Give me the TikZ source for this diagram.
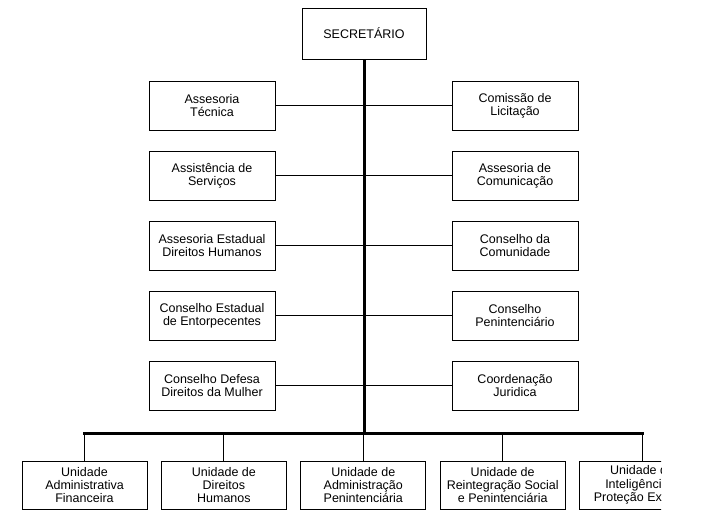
\documentclass[tikz,border=0pt]{standalone}
\usepackage{fontspec}
\setmainfont{Liberation Sans}
\usepackage{tikz}
\tikzstyle{block} = [rectangle, minimum width=126pt, minimum height=49pt, inner sep=0pt, outer sep=0pt, text centered, align=center, draw=black, line width=1pt, font=\fontsize{12.5}{13.3}\selectfont]
\tikzstyle{unit} = [block, minimum width=125pt, minimum height=48pt]
\tikzstyle{branch} = [line width=1pt]
\tikzstyle{trunk} = [line width=3pt]

\begin{document}
\begin{tikzpicture}[node distance=70pt]
        \useasboundingbox (0,0) rectangle (702pt,-525pt);
        \clip (0,0) rectangle (661pt,-525pt);
        \node (sec) [block, minimum width=124pt, minimum height=51pt] at (364pt,-33.5pt) {SECRETÁRIO};
        % left column
        \node (a1) [block] at (212pt,-105.5pt) {Assesoria\\Técnica};
        \node (a2) [block, below of=a1] {Assistência de\\Serviços};
        \node (a3) [block, below of=a2] {Assesoria Estadual\\Direitos Humanos};
        \node (a4) [block, below of=a3] {Conselho Estadual\\de Entorpecentes};
        \node (a5) [block, below of=a4] {Conselho Defesa\\Direitos da Mulher};
        % right column
        \node (b1) [block, right of=a1, node distance=303pt] {Comissão de\\Licitação};
        \node (b2) [block, below of=b1] {Assesoria de\\Comunicação};
        \node (b3) [block, below of=b2] {Conselho da\\Comunidade};
        \node (b4) [block, below of=b3] {Conselho\\Penintenciário};
        \node (b5) [block, below of=b4] {Coordenação\\Juridica};
        % units
        \node (u1) [unit] at (84.5pt,-485pt) {Unidade\\Administrativa\\Financeira};
        \node (u2) [unit, right of=u1, node distance=139.4pt] {Unidade de\\Direitos\\Humanos};
        \node (u3) [unit, right of=u2, node distance=139.4pt] {Unidade de\\Administração\\Penintenciária};
        \node (u4) [unit, right of=u3, node distance=139.4pt] {Unidade de\\Reintegração Social\\e Penintenciária};
        \node (u5) [unit, right of=u4, node distance=139.4pt] {Unidade de\\Inteligência e\\Proteção Externa};
        \coordinate (busL) at ([yshift=28pt]u1.north);
        \coordinate (busR) at ([yshift=28pt]u5.north);
        \foreach \i in {1,...,5}
            \draw [branch] (a\i.east) -- (b\i.west);
        \draw [trunk] (sec.south) -- (sec.south |- busL);
        \draw [trunk, line cap=rect] (busL) -- (busR);
        \foreach \i in {1,...,5}
            \draw [branch] (u\i.north) -- (u\i.north |- busL);
\end{tikzpicture}
\end{document}
